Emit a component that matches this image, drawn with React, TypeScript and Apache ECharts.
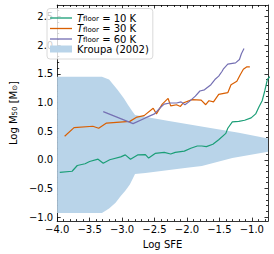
import React, { useEffect, useRef } from "react";
import * as echarts from "echarts";

const xMajor = [-4.0, -3.5, -3.0, -2.5, -2.0, -1.5, -1.0];
const xMinor = [-3.9, -3.8, -3.7, -3.6, -3.4, -3.3, -3.2, -3.1, -2.9, -2.8, -2.7, -2.6, -2.4, -2.3, -2.2, -2.1, -1.9, -1.8, -1.7, -1.6, -1.4, -1.3, -1.2, -1.1, -0.9, -0.8];
const yMajor = [-1.0, -0.5, 0.0, 0.5, 1.0, 1.5, 2.0, 2.5];
const yMinor = [-0.9, -0.8, -0.7, -0.6, -0.4, -0.3, -0.2, -0.1, 0.1, 0.2, 0.3, 0.4, 0.6, 0.7, 0.8, 0.9, 1.1, 1.2, 1.3, 1.4, 1.6, 1.7, 1.8, 1.9, 2.1, 2.2, 2.3, 2.4, 2.6];

const t10: [number, number][] = [
  [-3.96, -0.22], [-3.77, -0.2], [-3.69, -0.1], [-3.57, -0.07], [-3.5, -0.03], [-3.37, 0.01], [-3.29, -0.06],
  [-3.19, 0.0], [-3.02, 0.05], [-2.95, 0.085], [-2.87, 0.01], [-2.76, 0.085], [-2.64, 0.09], [-2.59, 0.03],
  [-2.49, 0.11], [-2.35, 0.13], [-2.25, 0.1], [-2.18, 0.13], [-2.04, 0.15], [-1.94, 0.2], [-1.84, 0.24],
  [-1.77, 0.24], [-1.7, 0.23], [-1.6, 0.27], [-1.51, 0.35], [-1.4, 0.46], [-1.37, 0.55], [-1.3, 0.66],
  [-1.2, 0.67], [-1.11, 0.69], [-1.01, 0.73], [-0.94, 0.8], [-0.89, 0.92], [-0.84, 1.03], [-0.8, 1.2],
  [-0.76, 1.4], [-0.72, 1.45],
];
const t30: [number, number][] = [
  [-3.885, 0.41], [-3.74, 0.56], [-3.45, 0.585], [-3.36, 0.55], [-3.24, 0.64], [-2.88, 0.67], [-2.77, 0.745],
  [-2.66, 0.77], [-2.52, 0.9], [-2.47, 0.8], [-2.38, 0.97], [-2.29, 1.07], [-2.25, 0.94], [-2.16, 0.96],
  [-2.1, 0.93], [-2.06, 0.99], [-1.92, 1.05], [-1.78, 1.04], [-1.71, 0.96], [-1.66, 1.03], [-1.59, 1.01],
  [-1.51, 1.14], [-1.37, 1.17], [-1.32, 1.31], [-1.23, 1.37], [-1.18, 1.48], [-1.13, 1.58], [-1.08, 1.62],
  [-1.03, 1.62],
];
const t60: [number, number][] = [
  [-3.29, 0.84], [-2.83, 0.63], [-2.64, 0.73], [-2.5, 0.8], [-2.4, 0.92], [-2.35, 0.97], [-2.26, 0.99],
  [-2.16, 0.99], [-2.09, 1.01], [-2.03, 0.96], [-1.97, 1.01], [-1.87, 1.11], [-1.8, 1.2], [-1.73, 1.22],
  [-1.63, 1.31], [-1.56, 1.41], [-1.51, 1.46], [-1.46, 1.54], [-1.44, 1.58], [-1.37, 1.67], [-1.25, 1.69],
  [-1.19, 1.75], [-1.16, 1.85], [-1.12, 1.94],
];

const kroupaUpper: [number, number][] = [
  [-4.0, 1.45], [-3.31, 1.45], [-3.2, 1.4], [-3.07, 1.22], [-2.97, 1.07], [-2.91, 0.96], [-2.85, 0.86],
  [-2.8, 0.78], [-2.3, 0.68], [-1.73, 0.57], [-1.2, 0.47], [-0.75, 0.37],
];
const kroupaLower: [number, number][] = [
  [-4.0, -0.93], [-3.31, -0.93], [-3.2, -0.85], [-3.1, -0.75], [-3.02, -0.63], [-2.95, -0.54], [-2.88, -0.43],
  [-2.83, -0.32], [-2.8, -0.25], [-2.64, -0.23], [-2.0, -0.14], [-1.77, -0.11], [-1.3, 0.03], [-0.75, 0.14],
];

const C10 = "#1b9e77";
const C30 = "#d95f02";
const C60 = "#7570b3";
const CK = "#b9d4e9";
const FONT = "DejaVu Sans";

const fmt = (v: number) => v.toFixed(1).replace("-", "\u2212");

function tickAxis(pos: string, kind: "x" | "y", vals: number[], len: number, labels: boolean, line: boolean) {
  const range = kind === "x" ? { min: -4.0, max: -0.75 } : { min: -1.07, max: 2.7 };
  return {
    type: "value",
    position: pos,
    ...range,
    splitLine: { show: false },
    axisLine: { show: line, onZero: false, lineStyle: { color: "#000", width: 0.8 } },
    axisTick: { show: true, inside: true, length: len, customValues: vals, lineStyle: { color: "#000", width: 0.8 } },
    axisLabel: labels
      ? { show: true, customValues: vals, formatter: fmt, fontFamily: FONT, fontSize: 10, color: "#000", margin: kind === "x" ? 3 : 4, showMinLabel: true, showMaxLabel: true, hideOverlap: false }
      : { show: false },
  };
}

const LINE_ICON = "path://M0 0H20V1.2H0Z";

export default function App() {
  const ref = useRef<HTMLDivElement>(null);
  useEffect(() => {
    if (!ref.current) return;
    const chart = echarts.init(ref.current, undefined, { renderer: "svg" });
    const legendRich = {
      t: { fontFamily: FONT, fontSize: 10, fontStyle: "italic", color: "#000", lineHeight: 9 },
      f: { fontFamily: FONT, fontSize: 7, color: "#000", verticalAlign: "bottom", lineHeight: 6, padding: [3, 0, 0, 0] },
      r: { fontFamily: FONT, fontSize: 10, color: "#000", lineHeight: 9 },
    };
    const xAxis = [
      { ...tickAxis("bottom", "x", xMajor, 3.5, true, true), name: "Log SFE", nameLocation: "middle", nameGap: 17, nameTextStyle: { fontFamily: FONT, fontSize: 10, color: "#000" } },
      tickAxis("bottom", "x", xMinor, 2, false, false),
      tickAxis("top", "x", xMajor, 3.5, false, true),
      tickAxis("top", "x", xMinor, 2, false, false),
    ];
    const yAxis = [
      {
        ...tickAxis("left", "y", yMajor, 3.5, true, true),
        name: "{a|Log M}{s|50}{a| [M}{s|\u2299}{a|]}",
        nameLocation: "middle",
        nameGap: 27,
        nameTextStyle: {
          rich: {
            a: { fontFamily: FONT, fontSize: 10, color: "#000", lineHeight: 10 },
            s: { fontFamily: FONT, fontSize: 7, color: "#000", verticalAlign: "bottom", lineHeight: 7, padding: [3, 0, 0, 0] },
          },
        },
      },
      tickAxis("left", "y", yMinor, 2, false, false),
      tickAxis("right", "y", yMajor, 3.5, false, true),
      tickAxis("right", "y", yMinor, 2, false, false),
    ];
    const lineSeries = (name: string, data: [number, number][], color: string) => ({
      name,
      type: "line",
      data,
      symbol: "none",
      showSymbol: false,
      clip: true,
      z: 3,
      lineStyle: { color, width: 1.2 },
      itemStyle: { color },
    });
    chart.setOption({
      animation: false,
      grid: { left: 42, right: 6, top: 5, bottom: 29, containLabel: false },
      xAxis,
      yAxis,
      legend: {
        orient: "vertical",
        left: 47,
        top: 8.5,
        padding: [4, 4, 5, 3],
        itemWidth: 22,
        itemHeight: 7,
        itemGap: 0,
        borderColor: "#d0d0d0",
        borderWidth: 0.8,
        borderRadius: 3,
        backgroundColor: "rgba(255,255,255,0.8)",
        textStyle: { fontFamily: FONT, fontSize: 10, color: "#000", rich: legendRich },
        formatter: (name: string) => {
          if (name.startsWith("T")) {
            const v = name.split(" ")[1];
            return `{t|T}{f|floor}{r| = ${v} K}`;
          }
          return `{r|${name}}`;
        },
        data: [
          { name: "T 10", icon: LINE_ICON, itemStyle: { color: C10 } },
          { name: "T 30", icon: LINE_ICON, itemStyle: { color: C30 } },
          { name: "T 60", icon: LINE_ICON, itemStyle: { color: C60 } },
          { name: "Kroupa (2002)", icon: "rect", itemStyle: { color: CK } },
        ],
      },
      series: [
        {
          name: "Kroupa (2002)",
          type: "custom",
          z: 1,
          itemStyle: { color: CK },
          data: [0],
          clip: true,
          renderItem: (params: any, api: any) => {
            const pts = kroupaUpper.map((p) => api.coord(p)).concat(kroupaLower.slice().reverse().map((p) => api.coord(p)));
            return { type: "polygon", shape: { points: pts }, style: { fill: CK } };
          },
        },
        lineSeries("T 10", t10, C10),
        lineSeries("T 30", t30, C30),
        lineSeries("T 60", t60, C60),
      ],
    });
    return () => chart.dispose();
  }, []);
  return <div ref={ref} style={{ position: "absolute", left: 0, top: 0, width: 274, height: 254, background: "#fff" }} />;
}
